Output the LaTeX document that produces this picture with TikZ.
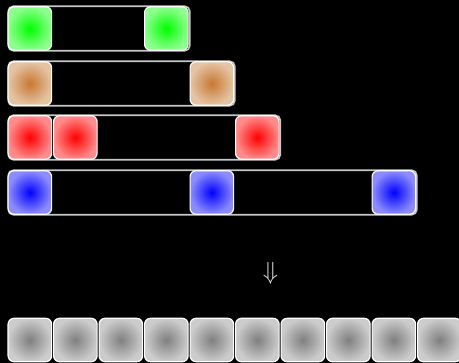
\documentclass[tikz,border=0pt]{standalone}
\usepackage{tikz}
\begin{document}
\begin{tikzpicture}[x=1pt,y=-1pt,
  bar/.style={draw=black!22, line width=1.6pt, rounded corners=5pt, minimum height=44.5pt, inner sep=0pt, anchor=west},
  sq/.style={draw=white, line width=1.2pt, rounded corners=6pt, minimum size=43.5pt, inner sep=0pt, anchor=west},
  gsq/.style={sq, inner color=green, outer color=green!45!white},
  bsq/.style={sq, inner color={rgb,255:red,200;green,120;blue,50}, outer color={rgb,255:red,228;green,196;blue,164}},
  rsq/.style={sq, inner color=red, outer color=red!45!white},
  usq/.style={sq, inner color=blue, outer color=blue!45!white},
  ksq/.style={sq, inner color=black!50, outer color=black!20}]
\fill[black] (0,0) rectangle (459,363);
\useasboundingbox (0,0) rectangle (459,363);
% row 1
\node[bar, minimum width=181.5pt] (bar1) at (7.5,28.5) {};
\node[gsq] (g0) at (7.5,28.5) {};
\node[gsq] (g3) at (144,28.5) {};
% row 2
\node[bar, minimum width=226.5pt] (bar2) at (7.5,83.5) {};
\node[bsq] (b0) at (7.5,83.5) {};
\node[bsq] (b4) at (189.5,83.5) {};
% row 3
\node[bar, minimum width=272pt] (bar3) at (7.5,137.5) {};
\node[rsq] (r0) at (7.5,137.5) {};
\node[rsq] (r1) at (53,137.5) {};
\node[rsq] (r5) at (235,137.5) {};
% row 4
\node[bar, minimum width=408.5pt] (bar4) at (7.5,192.5) {};
\node[usq] (u0) at (7.5,192.5) {};
\node[usq] (u4) at (189.5,192.5) {};
\node[usq] (u8) at (371.5,192.5) {};
% arrow
\node[text=black!12, inner sep=0pt, font=\fontsize{32}{32}\selectfont] (arr) at (270.5,273) {$\Downarrow$};
% result row
\foreach \i in {0,...,9} {
  \node[ksq] (k\i) at (7.5+45.5*\i,340) {};
}
\end{tikzpicture}
\end{document}
